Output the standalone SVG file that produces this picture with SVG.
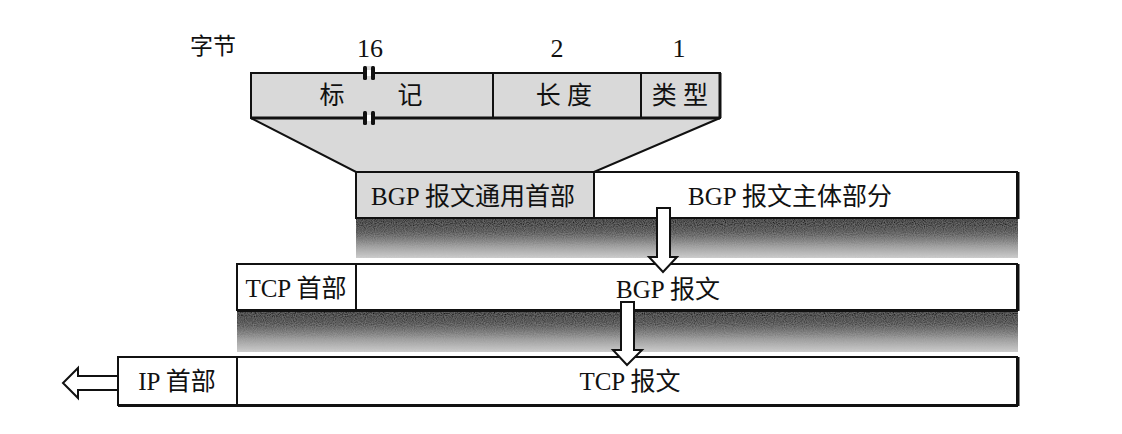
<svg xmlns="http://www.w3.org/2000/svg" width="1122" height="434" viewBox="0 0 1122 434">
<style>
.t{font-family:"Liberation Serif","Times New Roman","DejaVu Serif","Noto Sans CJK SC",serif;font-size:25px;fill:#111;text-anchor:middle;dominant-baseline:central}
.n{font-family:"Liberation Serif","Times New Roman","DejaVu Serif",serif;font-size:26px;fill:#111;text-anchor:middle}
.g{fill:#d9d9d9;stroke:#111;stroke-width:2}
.w{fill:#fff;stroke:#111;stroke-width:2}
.ln{stroke:#111;stroke-width:2;fill:none}
.arr{fill:#fff;stroke:#111;stroke-width:2;stroke-linejoin:miter}
</style>
<defs>
<linearGradient id="sh" x1="0" y1="0" x2="0" y2="1">
<stop offset="0" stop-color="#0a0a0a"/>
<stop offset="0.3" stop-color="#3a3a3a"/>
<stop offset="0.7" stop-color="#9a9a9a"/>
<stop offset="1" stop-color="#cfcfcf"/>
</linearGradient>
<filter id="grain" x="0" y="0" width="100%" height="100%">
<feTurbulence type="fractalNoise" baseFrequency="0.9" numOctaves="1" seed="3" result="n"/>
<feColorMatrix in="n" type="matrix" values="0 0 0 0 0.5  0 0 0 0 0.5  0 0 0 0 0.5  0 0 0 0.5 -0.1" result="m"/>
<feComposite in="m" in2="SourceGraphic" operator="in" result="c"/>
<feMerge><feMergeNode in="SourceGraphic"/><feMergeNode in="c"/></feMerge>
</filter>
</defs>
<rect width="1122" height="434" fill="#fff"/>

<g id="labels">
<text class="t" x="213" y="46" style="font-size:23px">字节</text>
<text class="n" x="370" y="57">16</text>
<text class="n" x="557" y="57">2</text>
<text class="n" x="679" y="57">1</text>
</g>

<g id="funnel">
<polygon class="g" points="251,118 720,118 594,172 356,172"/>
</g>

<g id="header-fields">
<rect class="g" x="251" y="73" width="469" height="45"/>
<line class="ln" x1="493" y1="73" x2="493" y2="118"/>
<line class="ln" x1="641" y1="73" x2="641" y2="118"/>
<line x1="251" y1="118" x2="720" y2="118" stroke="#111" stroke-width="3"/>
<line x1="720" y1="73" x2="720" y2="118" stroke="#111" stroke-width="3"/>
<text class="t" x="332" y="95">标</text>
<text class="t" x="410" y="95">记</text>
<text class="t" x="564" y="95">长 度</text>
<text class="t" x="680" y="95">类 型</text>
<g id="break-marks">
<rect x="366" y="66" width="6" height="60" fill="#d9d9d9"/>
<rect x="366" y="70" width="6" height="6" fill="#fff"/>
<rect x="366" y="115" width="6" height="6" fill="#fff"/>
<rect x="363" y="66" width="4" height="14" rx="1.5" fill="#111"/>
<rect x="371" y="66" width="4" height="14" rx="1.5" fill="#111"/>
<rect x="363" y="111" width="4" height="14" rx="1.5" fill="#111"/>
<rect x="371" y="111" width="4" height="14" rx="1.5" fill="#111"/>
</g>
</g>

<g id="shadow1">
<rect x="356" y="218" width="662" height="40" fill="url(#sh)" filter="url(#grain)"/>
</g>
<g id="shadow2">
<rect x="237" y="310" width="781" height="42" fill="url(#sh)" filter="url(#grain)"/>
</g>

<g id="bgp-header">
<rect class="g" x="356" y="172" width="238" height="46"/>
<text class="t" x="473" y="196">BGP 报文通用首部</text>
</g>
<g id="bgp-body">
<rect class="w" x="594" y="172" width="423" height="46"/>
<line x1="1018" y1="172" x2="1018" y2="219" stroke="#111" stroke-width="3"/>
<text class="t" x="790" y="196">BGP 报文主体部分</text>
</g>

<g id="tcp-header">
<rect class="w" x="237" y="264" width="119" height="46"/>
<text class="t" x="296" y="288">TCP 首部</text>
</g>
<g id="bgp-message">
<rect class="w" x="356" y="264" width="661" height="46"/>
<line x1="1018" y1="264" x2="1018" y2="311" stroke="#111" stroke-width="3"/>
<line x1="237" y1="311" x2="1018" y2="311" stroke="#111" stroke-width="2"/>
<text class="t" x="668" y="289">BGP 报文</text>
</g>

<g id="ip-header">
<rect class="w" x="118" y="357" width="119" height="48"/>
<text class="t" x="177" y="381">IP 首部</text>
</g>
<g id="tcp-message">
<rect class="w" x="237" y="357" width="780" height="48"/>
<line x1="1018" y1="357" x2="1018" y2="406" stroke="#111" stroke-width="3"/>
<line x1="118" y1="406" x2="1018" y2="406" stroke="#111" stroke-width="2"/>
<text class="t" x="630" y="381">TCP 报文</text>
</g>

<g id="connectors">
<polygon class="arr" points="657,208 670,208 670,257 677,257 663,272 649,257 657,257"/>
<polygon class="arr" points="621,302 634,302 634,350 642,350 627,365 613,350 621,350"/>
<polygon class="arr" points="118,376 78,376 78,368 63,383 78,398 78,390 118,390"/>
</g>
</svg>
